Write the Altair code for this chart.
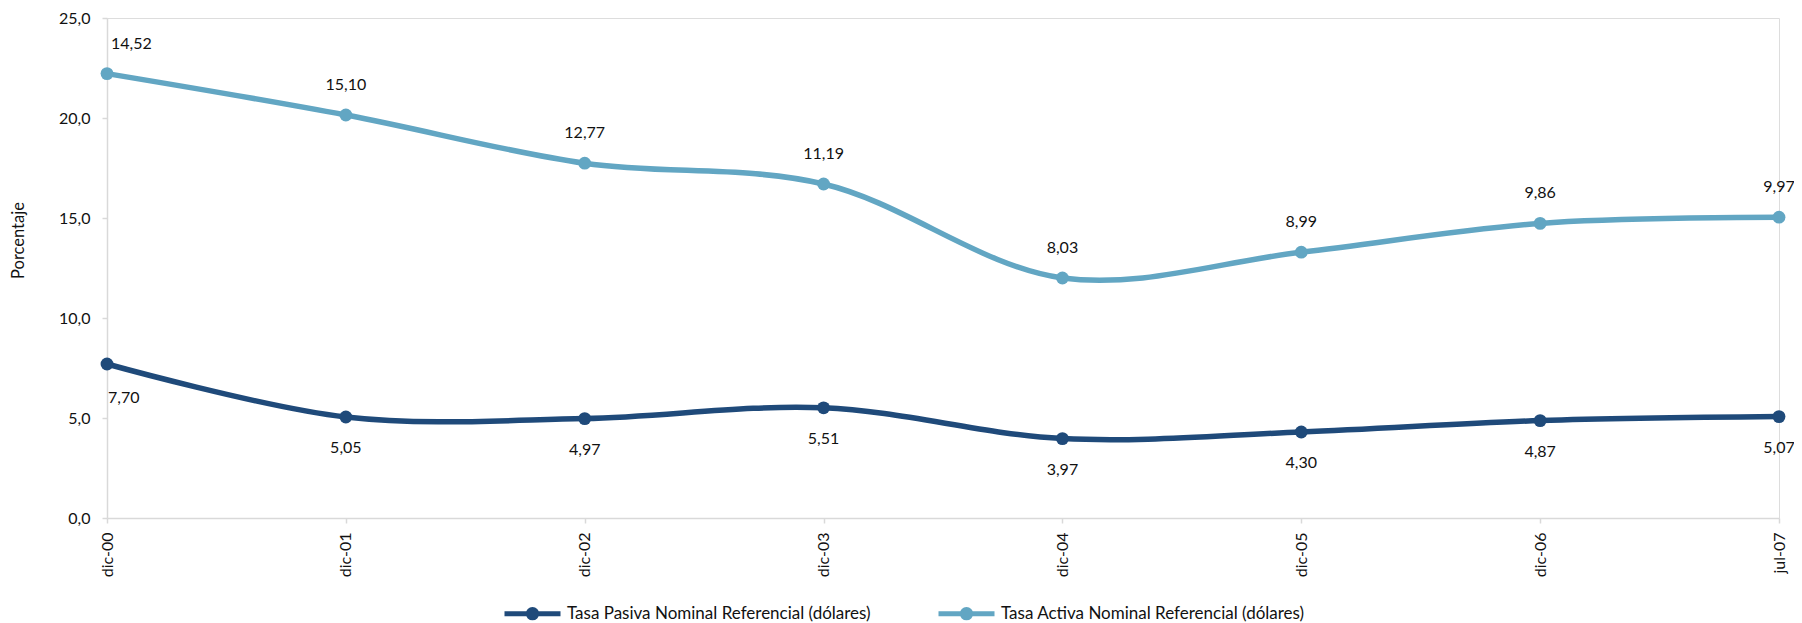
import altair as alt
import pandas as pd

categories = ["dic-00", "dic-01", "dic-02", "dic-03", "dic-04", "dic-05", "dic-06", "jul-07"]
pasiva = [7.70, 5.05, 4.97, 5.51, 3.97, 4.30, 4.87, 5.07]
activa = [22.22, 20.15, 17.74, 16.70, 12.00, 13.29, 14.73, 15.04]
activa_labels = [14.52, 15.10, 12.77, 11.19, 8.03, 8.99, 9.86, 9.97]
y_ticks = [0, 5, 10, 15, 20, 25]

S_PAS = "Tasa Pasiva Nominal Referencial (dólares)"
S_ACT = "Tasa Activa Nominal Referencial (dólares)"

rows = []
for i, c in enumerate(categories):
    rows.append({"cat": c, "serie": S_PAS, "valor": pasiva[i], "etiqueta": pasiva[i], "pos": "below", "idx": i})
    rows.append({"cat": c, "serie": S_ACT, "valor": activa[i], "etiqueta": activa_labels[i], "pos": "above", "idx": i})
df = pd.DataFrame(rows)

FONT = "Lato"
DARK = "#1F4A7A"
LIGHT = "#62A6C3"
TXT = "#111111"

legend_path = "M-1,0L1,0M0.15,0A0.15,0.15 0 1,1 -0.15,0A0.15,0.15 0 1,1 0.15,0Z"

color = alt.Color(
    "serie:N",
    scale=alt.Scale(domain=[S_PAS, S_ACT], range=[DARK, LIGHT]),
    legend=alt.Legend(
        title=None,
        orient="none",
        direction="horizontal",
        legendX=395,
        legendY=565,
        symbolType=legend_path,
        symbolSize=3136,
        symbolStrokeWidth=5,
        symbolOpacity=1,
        labelFont=FONT,
        labelFontSize=17,
        labelColor=TXT,
        labelOffset=4,
        columnPadding=57,
        labelLimit=450,
    ),
)

x = alt.X(
    "cat:N",
    sort=categories,
    scale=alt.Scale(type="point", padding=0),
    axis=alt.Axis(
        title=None,
        labelAngle=270,
        labelFont=FONT,
        labelFontSize=16,
        labelColor=TXT,
        labelPadding=9,
        domainColor="#D9D9D9",
        domainWidth=1.5,
        tickColor="#D9D9D9",
        tickSize=5,
        tickWidth=1.5,
        grid=False,
    ),
)
y = alt.Y(
    "valor:Q",
    scale=alt.Scale(domain=[0, 25], nice=False, zero=True),
    axis=alt.Axis(
        title="Porcentaje",
        titleFont=FONT,
        titleFontSize=16.5,
        titleFontWeight="normal",
        titleColor=TXT,
        titleAngle=270,
        titleX=-89,
        titleY=222,
        titleAlign="center",
        titleBaseline="middle",
        values=y_ticks,
        labelExpr="replace(format(datum.value,'.1f'),'.',',')",
        labelFont=FONT,
        labelFontSize=16,
        labelColor=TXT,
        labelPadding=12,
        domainColor="#D9D9D9",
        domainWidth=1.5,
        tickColor="#D9D9D9",
        tickSize=5,
        tickWidth=1.5,
        grid=False,
    ),
)

base = alt.Chart(df).encode(x=x, y=y)

lines = base.mark_line(interpolate="catmull-rom", strokeWidth=5.5).encode(color=color)
points = base.mark_point(filled=True, size=165, opacity=1).encode(color=color)

txt = base.transform_calculate(
    txt="replace(format(datum.etiqueta,'.2f'),'.',',')"
)
text_kw = dict(font=FONT, fontSize=16, color=TXT, baseline="middle")
lab_above = txt.transform_filter("datum.pos == 'above' && datum.idx > 0").mark_text(dy=-30, align="center", **text_kw).encode(text="txt:N")
lab_below = txt.transform_filter("datum.pos == 'below' && datum.idx > 0").mark_text(dy=31, align="center", **text_kw).encode(text="txt:N")
lab_above0 = txt.transform_filter("datum.pos == 'above' && datum.idx == 0").mark_text(dy=-30, dx=4, align="left", **text_kw).encode(text="txt:N")
lab_below0 = txt.transform_filter("datum.pos == 'below' && datum.idx == 0").mark_text(dy=34, dx=1, align="left", **text_kw).encode(text="txt:N")

chart = (
    alt.layer(lines, points, lab_above, lab_below, lab_above0, lab_below0)
    .properties(
        width=1672,
        height=500,
        autosize=alt.AutoSizeParams(type="none"),
        padding={"left": 99, "top": 10, "right": 15, "bottom": 105},
    )
    .configure_view(stroke=None)
    .configure(background="white")
)

chart.save("out.html", embed_options={"renderer": "svg", "actions": False})
